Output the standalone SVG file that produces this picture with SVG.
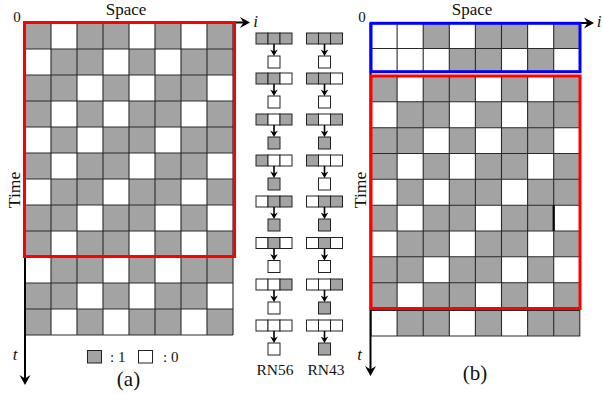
<svg xmlns="http://www.w3.org/2000/svg" width="602" height="394" viewBox="0 0 602 394">
<style>
.bg{fill:#fff}
.gy{fill:#a3a3a3}
.gl{fill:none;stroke:#2a2a2a;stroke-width:1.1}
.red{fill:none;stroke:#f00;stroke-width:3}
.blue{fill:none;stroke:#00f;stroke-width:3}
.ax{fill:none;stroke:#000;stroke-width:2}
.sa{fill:none;stroke:#000;stroke-width:1.6}
.cell{stroke:#222;stroke-width:1}
.w{fill:#fff}
.g{fill:#a3a3a3}
.tx{font-family:"Liberation Serif","Times New Roman","DejaVu Serif",serif;fill:#111}
.it{font-style:italic}
</style>
<defs>
<marker id="big" viewBox="-11 -6 11 12" markerWidth="11" markerHeight="12" refX="-4" refY="0" orient="auto" markerUnits="userSpaceOnUse">
<path d="M0,0 L-10,-5.5 L-6.5,0 L-10,5.5 Z" fill="#000"/>
</marker>
<marker id="sm" viewBox="-7 -4 7 8" markerWidth="7" markerHeight="8" refX="-2" refY="0" orient="auto" markerUnits="userSpaceOnUse">
<path d="M0,0 L-6.5,-3.8 L-4.5,0 L-6.5,3.8 Z" fill="#000"/>
</marker>
</defs>

<g id="panel-a">
<rect class="bg" x="25" y="23" width="208" height="312"/>
<path class="gy" d="M25,23h26v26h-26zM77,23h26v26h-26zM103,23h26v26h-26zM155,23h26v26h-26zM207,23h26v26h-26z
M51,49h26v26h-26zM77,49h26v26h-26zM129,49h26v26h-26zM181,49h26v26h-26zM207,49h26v26h-26z
M25,75h26v26h-26zM51,75h26v26h-26zM103,75h26v26h-26zM155,75h26v26h-26zM181,75h26v26h-26z
M25,101h26v26h-26zM77,101h26v26h-26zM129,101h26v26h-26zM155,101h26v26h-26zM207,101h26v26h-26z
M51,127h26v26h-26zM103,127h26v26h-26zM129,127h26v26h-26zM181,127h26v26h-26zM207,127h26v26h-26z
M25,153h26v26h-26zM77,153h26v26h-26zM103,153h26v26h-26zM155,153h26v26h-26zM181,153h26v26h-26z
M51,179h26v26h-26zM77,179h26v26h-26zM129,179h26v26h-26zM155,179h26v26h-26zM207,179h26v26h-26z
M25,205h26v26h-26zM51,205h26v26h-26zM103,205h26v26h-26zM129,205h26v26h-26zM181,205h26v26h-26z
M25,231h26v26h-26zM77,231h26v26h-26zM103,231h26v26h-26zM155,231h26v26h-26zM207,231h26v26h-26z
M51,257h26v26h-26zM77,257h26v26h-26zM129,257h26v26h-26zM181,257h26v26h-26zM207,257h26v26h-26z
M25,283h26v26h-26zM51,283h26v26h-26zM103,283h26v26h-26zM155,283h26v26h-26zM181,283h26v26h-26z
M25,309h26v26h-26zM77,309h26v26h-26zM129,309h26v26h-26zM155,309h26v26h-26zM207,309h26v26h-26z"/>
<path class="gl" d="M25,23V335M51,23V335M77,23V335M103,23V335M129,23V335M155,23V335M181,23V335M207,23V335M233,23V335
M25,23H233M25,49H233M25,75H233M25,101H233M25,127H233M25,153H233M25,179H233M25,205H233M25,231H233M25,257H233M25,283H233M25,309H233M25,335H233"/>
</g>

<g id="panel-b">
<rect class="bg" x="371" y="23" width="208.8" height="49"/>
<rect class="bg" x="371" y="76" width="208.8" height="232.5"/>
<rect class="bg" x="371" y="310.5" width="208.8" height="25.5"/>
<path class="gy" d="M423.2,23h26.1v25.5h-26.1zM475.4,23h26.1v25.5h-26.1zM501.5,23h26.1v25.5h-26.1zM553.7,23h26.1v25.5h-26.1z
M449.3,48.5h26.1v23.5h-26.1zM475.4,48.5h26.1v23.5h-26.1zM527.6,48.5h26.1v23.5h-26.1z
M371,76h26.1v25.8h-26.1zM423.2,76h26.1v25.8h-26.1zM449.3,76h26.1v25.8h-26.1zM501.5,76h26.1v25.8h-26.1zM553.7,76h26.1v25.8h-26.1z
M397.1,101.8h26.1v25.9h-26.1zM423.2,101.8h26.1v25.9h-26.1zM475.4,101.8h26.1v25.9h-26.1zM527.6,101.8h26.1v25.9h-26.1zM553.7,101.8h26.1v25.9h-26.1z
M371,127.7h26.1v25.8h-26.1zM397.1,127.7h26.1v25.8h-26.1zM449.3,127.7h26.1v25.8h-26.1zM501.5,127.7h26.1v25.8h-26.1zM527.6,127.7h26.1v25.8h-26.1z
M371,153.5h26.1v25.8h-26.1zM423.2,153.5h26.1v25.8h-26.1zM475.4,153.5h26.1v25.8h-26.1zM501.5,153.5h26.1v25.8h-26.1zM553.7,153.5h26.1v25.8h-26.1z
M397.1,179.3h26.1v25.9h-26.1zM449.3,179.3h26.1v25.9h-26.1zM475.4,179.3h26.1v25.9h-26.1zM527.6,179.3h26.1v25.9h-26.1zM553.7,179.3h26.1v25.9h-26.1z
M371,205.2h26.1v25.8h-26.1zM423.2,205.2h26.1v25.8h-26.1zM449.3,205.2h26.1v25.8h-26.1zM501.5,205.2h26.1v25.8h-26.1zM527.6,205.2h26.1v25.8h-26.1z
M397.1,231h26.1v25.8h-26.1zM423.2,231h26.1v25.8h-26.1zM475.4,231h26.1v25.8h-26.1zM501.5,231h26.1v25.8h-26.1zM553.7,231h26.1v25.8h-26.1z
M371,256.8h26.1v25.9h-26.1zM397.1,256.8h26.1v25.9h-26.1zM449.3,256.8h26.1v25.9h-26.1zM475.4,256.8h26.1v25.9h-26.1zM527.6,256.8h26.1v25.9h-26.1z
M371,282.7h26.1v25.8h-26.1zM423.2,282.7h26.1v25.8h-26.1zM449.3,282.7h26.1v25.8h-26.1zM501.5,282.7h26.1v25.8h-26.1zM553.7,282.7h26.1v25.8h-26.1z
M397.1,310.5h26.1v25.5h-26.1zM423.2,310.5h26.1v25.5h-26.1zM475.4,310.5h26.1v25.5h-26.1zM527.6,310.5h26.1v25.5h-26.1zM553.7,310.5h26.1v25.5h-26.1z"/>
<path class="gl" d="M397.1,23V72M423.2,23V72M449.3,23V72M475.4,23V72M501.5,23V72M527.6,23V72M553.7,23V72M371,48.5H579.8
M397.1,76V308.5M423.2,76V308.5M449.3,76V308.5M475.4,76V308.5M501.5,76V308.5M527.6,76V308.5M553.7,76V308.5
M371,101.8H579.8M371,127.7H579.8M371,153.5H579.8M371,179.3H579.8M371,205.2H579.8M371,231H579.8M371,256.8H579.8M371,282.7H579.8
M371,310.5H579.8V336H371ZM397.1,310.5V336M423.2,310.5V336M449.3,310.5V336M475.4,310.5V336M501.5,310.5V336M527.6,310.5V336M553.7,310.5V336"/>
<path d="M553.7,205.2V231" stroke="#000" stroke-width="2.2"/>
</g>

<g id="rn56">
<g id="rn56-1"><rect class="cell g" x="256" y="33" width="12" height="11"/><rect class="cell g" x="268" y="33" width="12" height="11"/><rect class="cell g" x="280" y="33" width="12" height="11"/><rect class="cell w" x="268" y="56" width="12" height="12"/></g>
<g id="rn56-2"><rect class="cell g" x="256" y="73" width="12" height="11"/><rect class="cell g" x="268" y="73" width="12" height="11"/><rect class="cell w" x="280" y="73" width="12" height="11"/><rect class="cell w" x="268" y="96" width="12" height="12"/></g>
<g id="rn56-3"><rect class="cell g" x="256" y="114" width="12" height="11"/><rect class="cell w" x="268" y="114" width="12" height="11"/><rect class="cell g" x="280" y="114" width="12" height="11"/><rect class="cell g" x="268" y="137" width="12" height="12"/></g>
<g id="rn56-4"><rect class="cell g" x="256" y="155" width="12" height="11"/><rect class="cell w" x="268" y="155" width="12" height="11"/><rect class="cell w" x="280" y="155" width="12" height="11"/><rect class="cell g" x="268" y="178" width="12" height="12"/></g>
<g id="rn56-5"><rect class="cell w" x="256" y="196" width="12" height="11"/><rect class="cell g" x="268" y="196" width="12" height="11"/><rect class="cell g" x="280" y="196" width="12" height="11"/><rect class="cell g" x="268" y="219" width="12" height="12"/></g>
<g id="rn56-6"><rect class="cell w" x="256" y="237.5" width="12" height="11"/><rect class="cell g" x="268" y="237.5" width="12" height="11"/><rect class="cell w" x="280" y="237.5" width="12" height="11"/><rect class="cell w" x="268" y="260.5" width="12" height="12"/></g>
<g id="rn56-7"><rect class="cell w" x="256" y="279" width="12" height="11"/><rect class="cell w" x="268" y="279" width="12" height="11"/><rect class="cell g" x="280" y="279" width="12" height="11"/><rect class="cell w" x="268" y="302" width="12" height="12"/></g>
<g id="rn56-8"><rect class="cell w" x="256" y="320" width="12" height="11"/><rect class="cell w" x="268" y="320" width="12" height="11"/><rect class="cell w" x="280" y="320" width="12" height="11"/><rect class="cell w" x="268" y="343" width="12" height="12"/></g>
<text class="tx" x="275" y="375" font-size="15.5" text-anchor="middle">RN56</text>
</g>

<g id="rn43">
<g id="rn43-1"><rect class="cell g" x="306.5" y="33" width="12" height="11"/><rect class="cell g" x="318.5" y="33" width="12" height="11"/><rect class="cell g" x="330.5" y="33" width="12" height="11"/><rect class="cell w" x="318.5" y="56" width="12" height="12"/></g>
<g id="rn43-2"><rect class="cell g" x="306.5" y="73" width="12" height="11"/><rect class="cell g" x="318.5" y="73" width="12" height="11"/><rect class="cell w" x="330.5" y="73" width="12" height="11"/><rect class="cell w" x="318.5" y="96" width="12" height="12"/></g>
<g id="rn43-3"><rect class="cell g" x="306.5" y="114" width="12" height="11"/><rect class="cell w" x="318.5" y="114" width="12" height="11"/><rect class="cell g" x="330.5" y="114" width="12" height="11"/><rect class="cell g" x="318.5" y="137" width="12" height="12"/></g>
<g id="rn43-4"><rect class="cell g" x="306.5" y="155" width="12" height="11"/><rect class="cell w" x="318.5" y="155" width="12" height="11"/><rect class="cell w" x="330.5" y="155" width="12" height="11"/><rect class="cell w" x="318.5" y="178" width="12" height="12"/></g>
<g id="rn43-5"><rect class="cell w" x="306.5" y="196" width="12" height="11"/><rect class="cell g" x="318.5" y="196" width="12" height="11"/><rect class="cell g" x="330.5" y="196" width="12" height="11"/><rect class="cell g" x="318.5" y="219" width="12" height="12"/></g>
<g id="rn43-6"><rect class="cell w" x="306.5" y="237.5" width="12" height="11"/><rect class="cell g" x="318.5" y="237.5" width="12" height="11"/><rect class="cell w" x="330.5" y="237.5" width="12" height="11"/><rect class="cell w" x="318.5" y="260.5" width="12" height="12"/></g>
<g id="rn43-7"><rect class="cell w" x="306.5" y="279" width="12" height="11"/><rect class="cell w" x="318.5" y="279" width="12" height="11"/><rect class="cell g" x="330.5" y="279" width="12" height="11"/><rect class="cell g" x="318.5" y="302" width="12" height="12"/></g>
<g id="rn43-8"><rect class="cell w" x="306.5" y="320" width="12" height="11"/><rect class="cell w" x="318.5" y="320" width="12" height="11"/><rect class="cell w" x="330.5" y="320" width="12" height="11"/><rect class="cell g" x="318.5" y="343" width="12" height="12"/></g>
<text class="tx" x="326" y="375" font-size="15.5" text-anchor="middle">RN43</text>
</g>

<g id="connectors">
<path class="ax" d="M25,22V381" marker-end="url(#big)"/>
<path class="ax" d="M25,22.5H246" marker-end="url(#big)"/>
<path class="ax" d="M370.5,23V372" marker-end="url(#big)"/>
<path class="ax" d="M580,23H590" marker-end="url(#big)"/>
<path class="sa" d="M274,44V54" marker-end="url(#sm)"/>
<path class="sa" d="M274,84V94" marker-end="url(#sm)"/>
<path class="sa" d="M274,125V135" marker-end="url(#sm)"/>
<path class="sa" d="M274,166V176" marker-end="url(#sm)"/>
<path class="sa" d="M274,207V217" marker-end="url(#sm)"/>
<path class="sa" d="M274,248.5V258.5" marker-end="url(#sm)"/>
<path class="sa" d="M274,290V300" marker-end="url(#sm)"/>
<path class="sa" d="M274,331V341" marker-end="url(#sm)"/>
<path class="sa" d="M324.5,44V54" marker-end="url(#sm)"/>
<path class="sa" d="M324.5,84V94" marker-end="url(#sm)"/>
<path class="sa" d="M324.5,125V135" marker-end="url(#sm)"/>
<path class="sa" d="M324.5,166V176" marker-end="url(#sm)"/>
<path class="sa" d="M324.5,207V217" marker-end="url(#sm)"/>
<path class="sa" d="M324.5,248.5V258.5" marker-end="url(#sm)"/>
<path class="sa" d="M324.5,290V300" marker-end="url(#sm)"/>
<path class="sa" d="M324.5,331V341" marker-end="url(#sm)"/>
</g>

<g id="frames">
<rect class="red" x="24.5" y="22.5" width="210" height="234"/>
<rect class="blue" x="371" y="23.3" width="209" height="48.4"/>
<rect class="red" x="371" y="76" width="209" height="232.5"/>
</g>

<g id="labels-a" font-family="Liberation Serif, serif">
<text class="tx" x="126" y="15" font-size="17" text-anchor="middle">Space</text>
<text class="tx" x="17" y="22" font-size="15" text-anchor="middle">0</text>
<text class="tx it" x="255.5" y="27" font-size="17" text-anchor="middle">i</text>
<text class="tx" transform="translate(19.5,190) rotate(-90)" font-size="17.5" text-anchor="middle">Time</text>
<text class="tx it" x="15" y="360" font-size="17" text-anchor="middle">t</text>
<rect class="cell g" x="87.5" y="350.5" width="14" height="12.5"/>
<text class="tx" x="110" y="362" font-size="15">: 1</text>
<rect class="cell w" x="138.5" y="350.5" width="14" height="12.5"/>
<text class="tx" x="163" y="362" font-size="15">: 0</text>
<text class="tx" x="128.5" y="386" font-size="21" text-anchor="middle">(a)</text>
</g>

<g id="labels-b" font-family="Liberation Serif, serif">
<text class="tx" x="472" y="15" font-size="17" text-anchor="middle">Space</text>
<text class="tx" x="362" y="22" font-size="15" text-anchor="middle">0</text>
<text class="tx it" x="599" y="27" font-size="17" text-anchor="middle">i</text>
<text class="tx" transform="translate(366,190) rotate(-90)" font-size="17.5" text-anchor="middle">Time</text>
<text class="tx it" x="359.5" y="360" font-size="17" text-anchor="middle">t</text>
<text class="tx" x="475" y="380" font-size="21" text-anchor="middle">(b)</text>
</g>
</svg>
